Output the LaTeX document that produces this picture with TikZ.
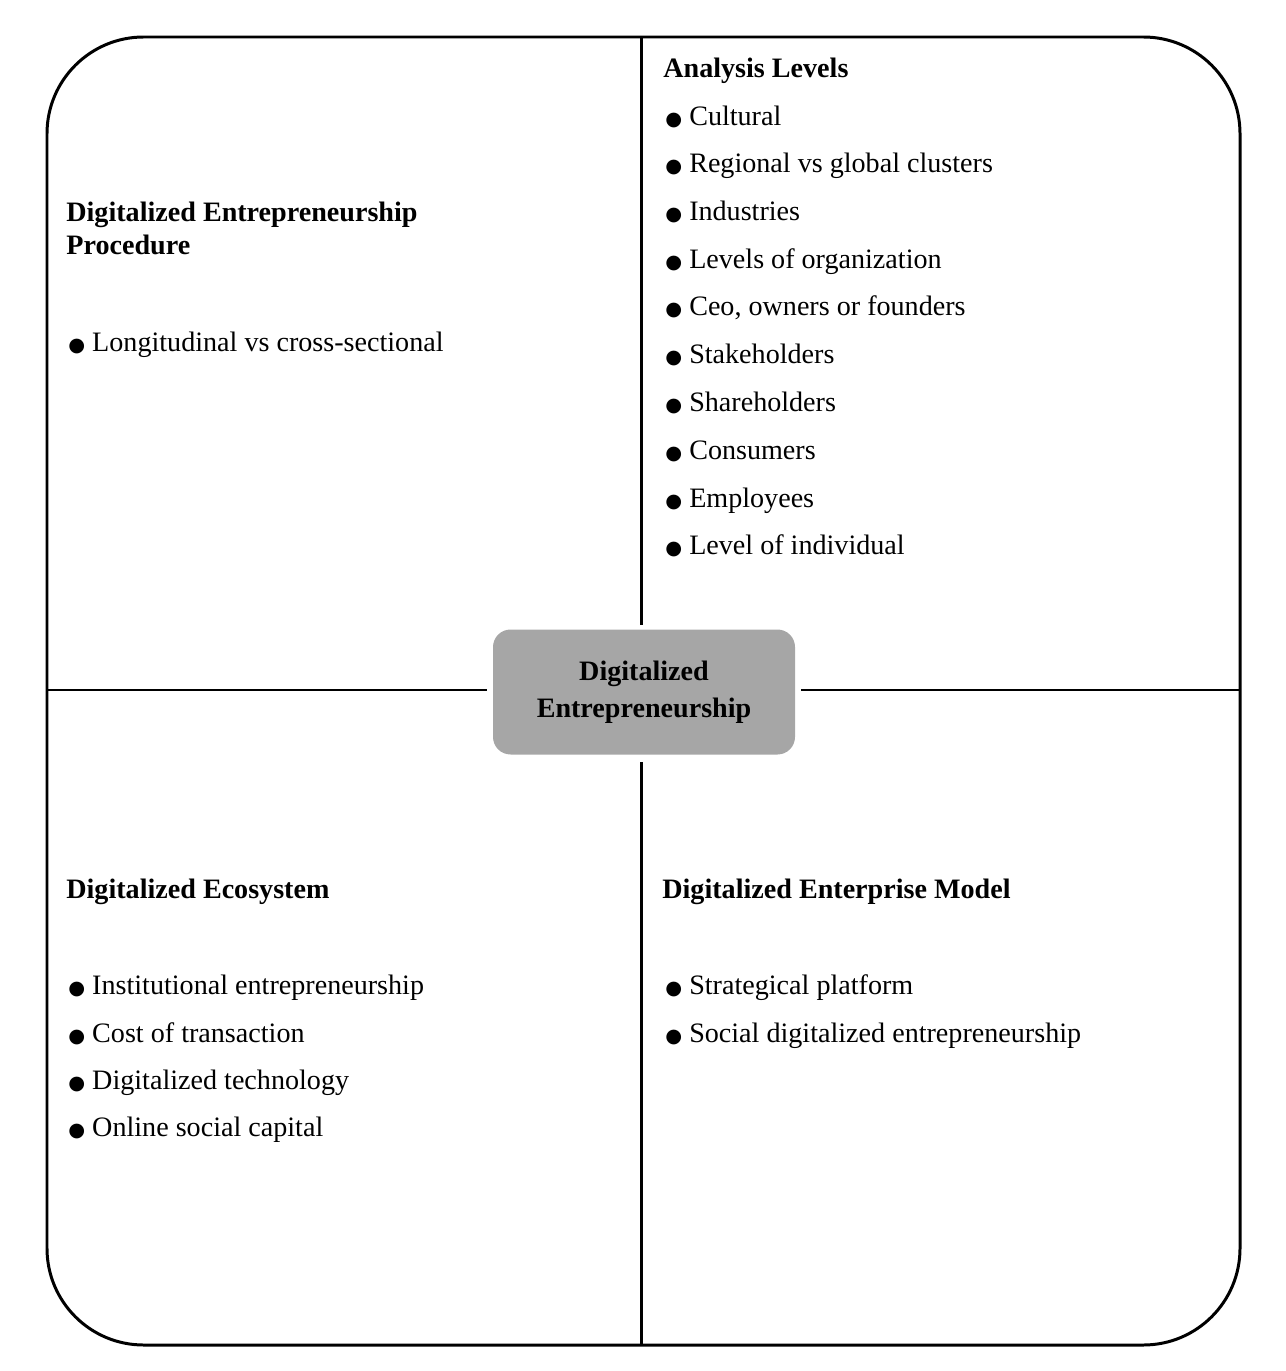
\documentclass[tikz,border=0pt]{standalone}
\usepackage{fontspec}
\setmainfont{Liberation Serif}
\newfontfamily\djv{DejaVu Sans}
\begin{document}
\begin{tikzpicture}[x=0.02cm,y=-0.02cm,
  ln/.style={line width=1.7pt},
  txt/.style={anchor=base west,inner sep=0pt,font=\fontsize{16}{19}\selectfont},
  hd/.style={txt,font=\fontsize{16}{19}\selectfont\bfseries,align=left}]
\useasboundingbox (0,0) rectangle (1285,1371);
\draw[ln,rounded corners=55pt] (47,37) rectangle (1240,1345);
\node[fill=black!35,rounded corners=10pt,minimum width=302*0.02cm,minimum height=125*0.02cm,inner sep=0pt,
  font=\fontsize{16}{21}\selectfont\bfseries,align=center] (c) at (644,692) {Digitalized\\Entrepreneurship};
\coordinate (t) at (641,37); \coordinate (b) at (641,1345);
\coordinate (l) at (47,690); \coordinate (r) at (1240,690);
\draw[ln] (t) -- (641,625); \draw[ln] (641,762) -- (b);
\draw[ln] (l) -- (487,690); \draw[ln] (801,690) -- (r);
\newcommand{\bl}{{\djv\fontsize{11}{11}\selectfont ●}\hspace{0.25em}}
\node[hd] (h1) at (663,78) {Analysis Levels};
\foreach \y/\t [count=\i] in {126/Cultural,173/Regional vs global clusters,221/Industries,269/Levels of organization,316/{Ceo, owners or founders},364/Stakeholders,411/Shareholders,459/Consumers,507/Employees,554/Level of individual}
  \node[txt] (a\i) at (665,\y) {\bl\t};
\node[hd] (h2) at (66,222) {Digitalized Entrepreneurship};
\node[hd] (h2b) at (66,255) {Procedure};
\node[txt] (p1) at (68,352) {\bl Longitudinal vs cross-sectional};
\node[hd] (h3) at (66,898) {Digitalized Ecosystem};
\foreach \y/\t [count=\i] in {994/Institutional entrepreneurship,1042/Cost of transaction,1089/Digitalized technology,1136/Online social capital}
  \node[txt] (e\i) at (68,\y) {\bl\t};
\node[hd] (h4) at (662,898) {Digitalized Enterprise Model};
\foreach \y/\t [count=\i] in {994/Strategical platform,1042/Social digitalized entrepreneurship}
  \node[txt] (m\i) at (665,\y) {\bl\t};
\end{tikzpicture}
\end{document}
